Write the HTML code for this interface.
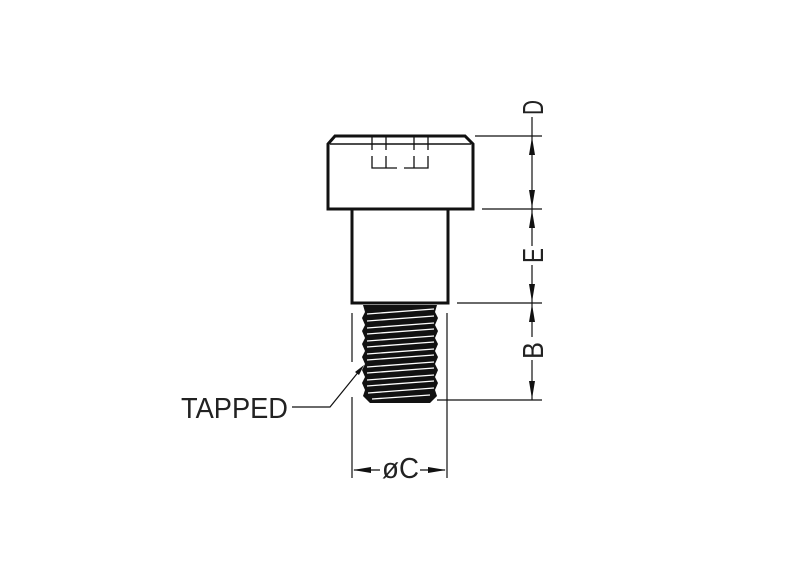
<!DOCTYPE html>
<html><head><style>body{margin:0;background:#fff}svg{display:block}</style></head><body>
<svg width="800" height="576" viewBox="0 0 800 576" xmlns="http://www.w3.org/2000/svg">
<g fill="none" stroke="#111">
<path d="M328,144 L335,136 L465,136 L473,144 L473,209 L328,209 Z" stroke-width="3"/>
<line x1="330" y1="144" x2="471" y2="144" stroke-width="1.5"/>
<g stroke-width="1.3">
<line x1="372" y1="137" x2="372" y2="150"/><line x1="386" y1="137" x2="386" y2="150"/>
<line x1="414" y1="137" x2="414" y2="150"/><line x1="428" y1="137" x2="428" y2="150"/>
<path d="M372,156 V168 H397 M386,156 V168"/>
<path d="M404,168 H428 V156 M414,156 V168"/>
</g>
<path d="M352,209 V303 H448 V209" stroke-width="3"/>
</g>
<path d="M363,305 L437,305 L435,312 L438,318 L435,325 L438,331 L435,338 L438,344 L435,351 L438,357 L435,364 L438,370 L435,377 L438,383 L435,390 L437,396 L430,403 L370,403 L363,396 L365,390 L362,383 L365,377 L362,370 L365,364 L362,357 L365,351 L362,344 L365,338 L362,331 L365,325 L362,318 L365,312 Z" fill="#111"/>
<g stroke="#fff" stroke-width="1.3">
<line x1="367" y1="314" x2="434" y2="309"/><line x1="367" y1="321" x2="434" y2="316"/>
<line x1="367" y1="328" x2="434" y2="323"/><line x1="367" y1="334" x2="434" y2="329"/>
<line x1="367" y1="341" x2="434" y2="336"/><line x1="367" y1="347" x2="434" y2="342"/>
<line x1="367" y1="354" x2="434" y2="349"/><line x1="367" y1="360" x2="434" y2="355"/>
<line x1="367" y1="367" x2="434" y2="362"/><line x1="367" y1="373" x2="434" y2="368"/>
<line x1="367" y1="380" x2="434" y2="375"/><line x1="367" y1="386" x2="434" y2="381"/>
<line x1="368" y1="393" x2="434" y2="388"/><line x1="372" y1="399" x2="430" y2="395"/>
</g>
<g stroke="#111" stroke-width="1.2" fill="none">
<line x1="475" y1="136" x2="542" y2="136"/>
<line x1="482" y1="209" x2="542" y2="209"/>
<line x1="457" y1="303" x2="542" y2="303"/>
<line x1="437" y1="400" x2="542" y2="400"/>
<line x1="532" y1="117" x2="532" y2="246"/>
<line x1="532" y1="265" x2="532" y2="337"/>
<line x1="532" y1="360" x2="532" y2="400"/>
<line x1="352" y1="313" x2="352" y2="362"/>
<line x1="352" y1="397" x2="352" y2="478"/>
<line x1="447" y1="313" x2="447" y2="478"/>
<line x1="354" y1="470" x2="380" y2="470"/>
<line x1="420" y1="470" x2="445" y2="470"/>
<path d="M292,407 H330 L360,370"/>
</g>
<g fill="#111">
<path d="M532,137 l-3,18 h6 z"/><path d="M532,208 l-3,-18 h6 z"/>
<path d="M532,210 l-3,18 h6 z"/><path d="M532,302 l-3,-18 h6 z"/>
<path d="M532,304 l-3,18 h6 z"/><path d="M532,399 l-3,-18 h6 z"/>
<path d="M353,470 l18,-3 v6 z"/><path d="M446,470 l-18,-3 v6 z"/>
<path d="M364,365 l-9,7 l4,3 z"/>
</g>
<g font-family="Liberation Sans, sans-serif" font-size="29" fill="#222">
<text transform="translate(543,115) rotate(-90)" textLength="15" lengthAdjust="spacingAndGlyphs">D</text>
<text transform="translate(543,263) rotate(-90)" textLength="15" lengthAdjust="spacingAndGlyphs">E</text>
<text transform="translate(543,359) rotate(-90)" textLength="17" lengthAdjust="spacingAndGlyphs">B</text>
<text x="382" y="478" textLength="37" lengthAdjust="spacingAndGlyphs">øC</text>
<text x="181" y="418" textLength="107" lengthAdjust="spacingAndGlyphs">TAPPED</text>
</g>
</svg>
</body></html>
